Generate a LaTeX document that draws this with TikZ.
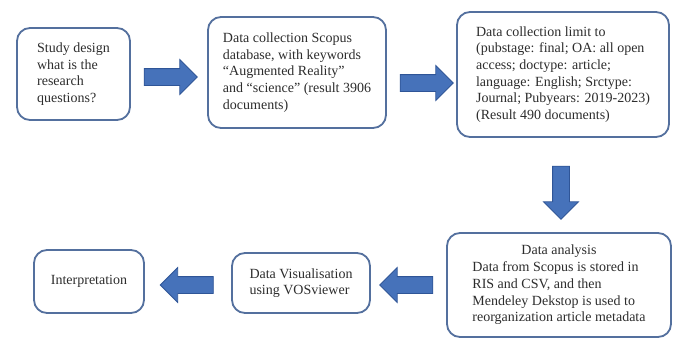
\documentclass[tikz,border=0pt]{standalone}
\usepackage{fontspec}
\setmainfont{Liberation Serif}
\usetikzlibrary{shapes.arrows}
\definecolor{boxline}{RGB}{84,112,158}
\definecolor{arrowfill}{RGB}{70,114,186}
\definecolor{arrowline}{RGB}{47,85,151}
\definecolor{inktext}{RGB}{45,45,45}
\begin{document}
\begin{tikzpicture}[x=1pt,y=-1pt,
  box/.style={draw=boxline, line width=1.8pt, rounded corners=13pt, fill=white,
    align=left, text=inktext, font=\fontsize{14}{16.7}\selectfont, inner sep=0pt},
  flowarrow/.style={single arrow, fill=arrowfill, draw=arrowline, line width=0.8pt,
    single arrow head extend=9pt, single arrow tip angle=90,
    inner xsep=0pt, inner ysep=8pt, minimum height=53pt, sloped, allow upside down}]
\fill[white] (0,0) rectangle (674,338);
\useasboundingbox (0,0) rectangle (674,338);

% process steps
\node[box, minimum width=113pt, minimum height=92pt] (design) at (73.5,74)
  {Study design\\what is the\\research\\questions?};
\node[box, minimum width=178pt, minimum height=111pt] (collect) at (297,72.5)
  {Data collection Scopus\\database, with keywords\\“Augmented Reality”\\and “science” (result 3906\\documents)};
\node[box, minimum width=212pt, minimum height=125pt] (limit) at (563,74.5)
  {Data collection limit to\\(pubstage: final; OA: all open\\access; doctype: article;\\language: English; Srctype:\\Journal; Pubyears: 2019-2023)\\(Result 490 documents)};
\node[box, minimum width=224pt, minimum height=104pt] (analysis) at (559,285)
  {\begin{tabular}{@{}l@{}}\multicolumn{1}{@{}c@{}}{Data analysis}\\
   Data from Scopus is stored in\\RIS and CSV, and then\\Mendeley Dekstop is used to\\reorganization article metadata\end{tabular}};
\node[box, minimum width=138pt, minimum height=60pt] (visual) at (301,283)
  {Data Visualisation\\using VOSviewer};
\node[box, minimum width=110pt, minimum height=63pt] (interp) at (89,281.5)
  {Interpretation};

% block arrows between the steps
\coordinate (a1s) at (140,77);  \coordinate (a1e) at (193,77);
\coordinate (a2s) at (396,83);  \coordinate (a2e) at (449,83);
\coordinate (a3s) at (561,162); \coordinate (a3e) at (561,215);
\coordinate (a4s) at (436,285); \coordinate (a4e) at (385,285);
\coordinate (a5s) at (217,285); \coordinate (a5e) at (165,285);
\path (a1s) -- node[flowarrow] (ar1) {} (a1e);
\path (a2s) -- node[flowarrow] (ar2) {} (a2e);
\path (a3s) -- node[flowarrow] (ar3) {} (a3e);
\path (a4s) -- node[flowarrow] (ar4) {} (a4e);
\path (a5s) -- node[flowarrow] (ar5) {} (a5e);
\end{tikzpicture}
\end{document}
